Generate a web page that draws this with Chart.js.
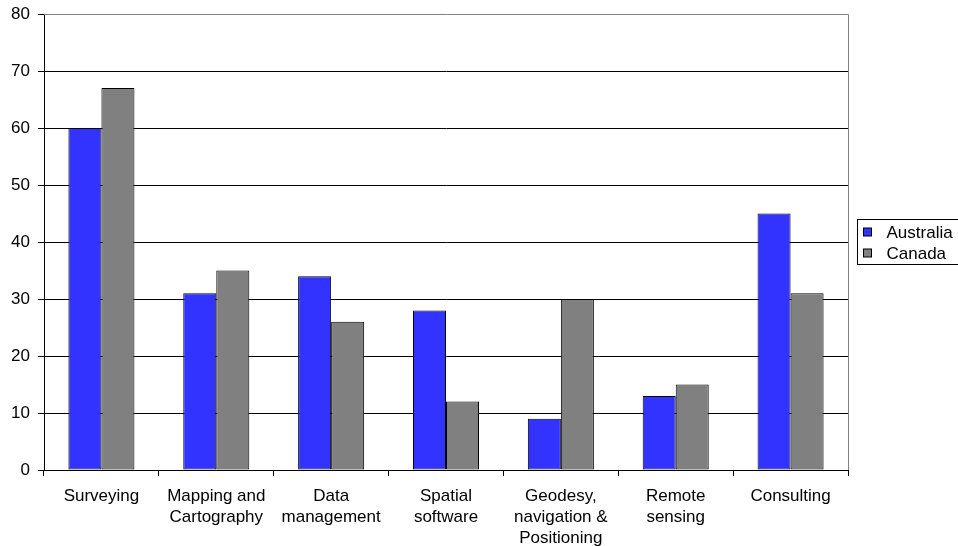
<!DOCTYPE html>
<html>
<head>
<meta charset="utf-8">
<script src="https://cdn.jsdelivr.net/npm/chart.js@4/dist/chart.umd.min.js"></script>
<style>
  html, body { margin: 0; padding: 0; background: #fff; }
  #wrap { width: 958px; height: 546px; position: relative; }
</style>
</head>
<body>
<div id="wrap"><canvas id="c" width="958" height="546"></canvas></div>
<script>
// Categories and series values
const categories = [
  "Surveying",
  ["Mapping and", "Cartography"],
  ["Data", "management"],
  ["Spatial", "software"],
  ["Geodesy,", "navigation &", "Positioning"],
  ["Remote", "sensing"],
  "Consulting"
];
const australia = [60, 31, 34, 28, 9, 13, 45];
const canada = [67, 35, 26, 12, 30, 15, 31];
const seriesNames = ["Australia", "Canada"];
const yTicks = [0, 10, 20, 30, 40, 50, 60, 70, 80];

const FONT = '"Liberation Sans", Arial, sans-serif';
const BLUE = '#3333FF';
const GREY = '#808080';

// Grey frame on the top and right of the plot area
const frame = {
  id: 'frame',
  afterDraw(chart) {
    const { ctx, chartArea: a } = chart;
    ctx.save();
    ctx.strokeStyle = GREY;
    ctx.lineWidth = 1;
    ctx.beginPath();
    ctx.moveTo(a.left, Math.round(a.top) + 0.5);
    ctx.lineTo(Math.round(a.right) + 0.5, Math.round(a.top) + 0.5);
    ctx.lineTo(Math.round(a.right) + 0.5, a.bottom);
    ctx.stroke();
    ctx.restore();
  }
};

// Boxed legend to the right of the plot
const boxLegend = {
  id: 'boxLegend',
  afterDraw(chart) {
    const { ctx, chartArea: a } = chart;
    const x0 = Math.round(a.right) + 9.5;
    const y0 = 219.5;
    const rowH = 21;
    const n = chart.data.datasets.length;
    ctx.save();
    ctx.fillStyle = '#fff';
    ctx.fillRect(x0, y0, 120, rowH * n + 3);
    ctx.strokeStyle = '#000';
    ctx.lineWidth = 1;
    ctx.strokeRect(x0, y0, 120, rowH * n + 3);
    ctx.font = '17px ' + FONT;
    ctx.textBaseline = 'middle';
    chart.data.datasets.forEach((ds, i) => {
      const cy = y0 + 12.5 + i * rowH;
      ctx.fillStyle = ds.backgroundColor;
      ctx.fillRect(x0 + 6, cy - 4, 8, 8);
      ctx.strokeStyle = '#000';
      ctx.strokeRect(x0 + 6, cy - 4, 8, 8);
      ctx.fillStyle = '#000';
      ctx.fillText(ds.label, x0 + 29, cy + 1);
    });
    ctx.restore();
  }
};

new Chart(document.getElementById('c'), {
  type: 'bar',
  data: {
    labels: categories,
    datasets: [
      { label: seriesNames[0], data: australia, backgroundColor: BLUE, borderColor: '#000', borderWidth: 1, borderSkipped: false },
      { label: seriesNames[1], data: canada, backgroundColor: GREY, borderColor: '#000', borderWidth: 1, borderSkipped: false }
    ]
  },
  options: {
    responsive: false,
    animation: false,
    devicePixelRatio: 1,
    layout: { padding: { top: 14, right: 110, left: 0, bottom: 0 } },
    datasets: { bar: { categoryPercentage: 0.575, barPercentage: 1.0 } },
    plugins: { legend: { display: false }, tooltip: { enabled: false } },
    scales: {
      x: {
        offset: true,
        grid: { display: true, drawOnChartArea: false, drawTicks: true, tickLength: 6, color: '#000', offset: true },
        border: { display: true, color: '#000', width: 1 },
        ticks: { color: '#000', font: { family: FONT, size: 17, lineHeight: 1.24 }, padding: 10, maxRotation: 0, autoSkip: false },
        afterFit(s) { s.height = 76; s.paddingLeft = 0; s.paddingRight = 0; }
      },
      y: {
        min: 0,
        max: 80,
        afterBuildTicks(s) { s.ticks = yTicks.map(v => ({ value: v })); },
        grid: {
          color: c => (c.tick && c.tick.value === 80 ? 'rgba(0,0,0,0)' : '#000'),
          tickColor: '#000',
          tickLength: 6,
          drawTicks: true
        },
        border: { display: true, color: '#000', width: 1 },
        ticks: { color: '#000', font: { family: FONT, size: 17 }, padding: 8 },
        afterFit(s) { s.width = 44; s.paddingTop = 0; s.paddingBottom = 0; }
      }
    }
  },
  plugins: [frame, boxLegend]
});
</script>
</body>
</html>
